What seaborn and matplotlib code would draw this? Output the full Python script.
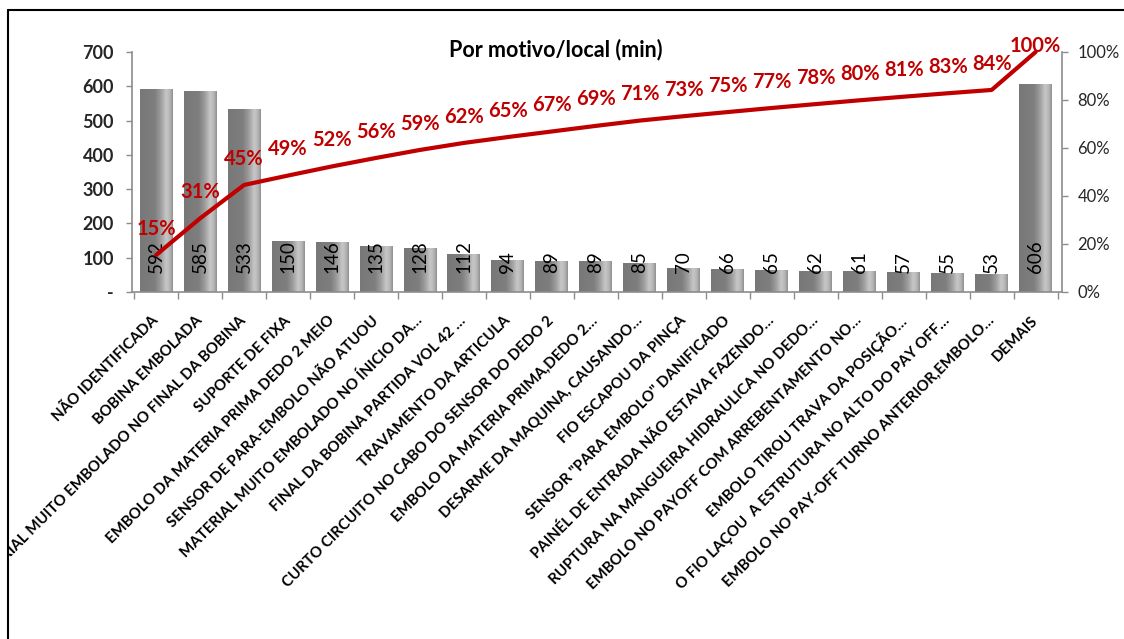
import numpy as np
import pandas as pd
import matplotlib
matplotlib.use("Agg")
import matplotlib.pyplot as plt
import seaborn as sns
from matplotlib.colors import LinearSegmentedColormap
from matplotlib.transforms import Bbox, TransformedBbox
from matplotlib.lines import Line2D

# Downtime per cause (minutes), already sorted for the Pareto view
motivos = [
    "NÃO IDENTIFICADA",
    "BOBINA EMBOLADA",
    "MATERIAL MUITO EMBOLADO NO FINAL DA BOBINA",
    "SUPORTE DE FIXA",
    "EMBOLO DA MATERIA PRIMA DEDO 2 MEIO",
    "SENSOR DE PARA-EMBOLO NÃO ATUOU",
    "MATERIAL MUITO EMBOLADO NO ÍNICIO DA…",
    "FINAL DA BOBINA PARTIDA VOL 42 …",
    "TRAVAMENTO DA ARTICULA",
    "CURTO CIRCUITO NO CABO DO SENSOR DO DEDO 2",
    "EMBOLO DA MATERIA PRIMA,DEDO 2…",
    "DESARME DA MAQUINA, CAUSANDO…",
    "FIO ESCAPOU DA PINÇA",
    "SENSOR \"PARA EMBOLO\" DANIFICADO",
    "PAINÉL DE ENTRADA NÃO ESTAVA FAZENDO…",
    "RUPTURA NA MANGUEIRA HIDRAULICA NO DEDO…",
    "EMBOLO NO PAYOFF COM ARREBENTAMENTO NO…",
    "EMBOLO TIROU TRAVA DA POSIÇÃO…",
    "O FIO LAÇOU  A ESTRUTURA NO ALTO DO PAY OFF…",
    "EMBOLO NO PAY-OFF TURNO ANTERIOR,EMBOLO…",
    "DEMAIS",
]
minutos = [592, 585, 533, 150, 146, 135, 128, 112, 94, 89, 89,
           85, 70, 66, 65, 62, 61, 57, 55, 53, 606]
y_ticks = [0, 100, 200, 300, 400, 500, 600, 700]
y_tick_labels = ["-", "100", "200", "300", "400", "500", "600", "700"]
pct_ticks = [0, 0.2, 0.4, 0.6, 0.8, 1.0]
pct_tick_labels = ["0%", "20%", "40%", "60%", "80%", "100%"]

df = pd.DataFrame({"motivo": motivos, "minutos": minutos})
df["acumulado"] = df["minutos"].cumsum() / df["minutos"].sum()
n = len(df)

sns.set_style("white")
plt.rcParams["font.family"] = ["Lato", "DejaVu Sans"]

W, H = 1124, 639
fig = plt.figure(figsize=(W / 100, H / 100), dpi=100)
ax = fig.add_axes([132 / W, 1 - 292 / H, 930 / W, 240 / H])

GRAY = "#8c8c8c"
RED = "#C00000"

sns.barplot(data=df, x="motivo", y="minutos", ax=ax, color="#8a8a8a",
            width=0.75, saturation=1, zorder=2)

# horizontal metallic shading on each bar
shade = LinearSegmentedColormap.from_list(
    "shade", [(0.0, "#787878"), (0.45, "#7e7e7e"), (0.62, "#9a9a9a"),
              (0.8, "#c8c8c8"), (0.92, "#b2b2b2"), (1.0, "#8e8e8e")])
grad = np.linspace(0, 1, 256).reshape(1, -1)
for p in list(ax.patches):
    x0, y0 = p.get_x(), p.get_y()
    w, h = p.get_width(), p.get_height()
    im = ax.imshow(grad, extent=[x0, x0 + w, y0, y0 + h], aspect="auto",
                   cmap=shade, interpolation="bicubic", zorder=2.5)
    im.set_clip_path(p)

ax.set_xlim(-0.55, n - 0.4)
ax.set_ylim(0, 700)
ax.set_xlabel("")
ax.set_ylabel("")

ax.set_yticks(y_ticks)
ax.set_yticklabels(y_tick_labels, fontsize=13, fontweight="bold", color="#262626")
ax.tick_params(axis="y", direction="out", length=4, width=1, color=GRAY, pad=9, left=True)

ax.set_xticks(np.arange(n))
ax.set_xticklabels(motivos, rotation=45, ha="right", va="center",
                   rotation_mode="anchor", fontsize=10.8, fontweight="bold", color="black")
ax.tick_params(axis="x", which="major", length=0, pad=19)
ax.set_xticks(np.arange(-0.5, n, 1), minor=True)
ax.tick_params(axis="x", which="minor", direction="out", length=5, width=1, color=GRAY, bottom=True)

for s in ["top", "right"]:
    ax.spines[s].set_visible(False)
for s in ["left", "bottom"]:
    ax.spines[s].set_color(GRAY)
    ax.spines[s].set_linewidth(1.2)

# bar values, inside the base
for i, v in enumerate(df["minutos"]):
    ax.annotate(f"{v}", xy=(i, 0), xytext=(0, 14), textcoords="offset points",
                rotation=90, ha="center", va="bottom", fontsize=13.5,
                color="black", zorder=5)

# cumulative share on the secondary axis
ax2 = ax.twinx()
sns.lineplot(x=np.arange(n), y=df["acumulado"].values, ax=ax2, color=RED,
             linewidth=3, clip_on=False, zorder=4)
ax2.set_ylim(0, 1)
ax2.set_xlim(ax.get_xlim())
ax2.set_yticks(pct_ticks)
ax2.set_yticklabels(pct_tick_labels, fontsize=12, color="#262626")
ax2.tick_params(axis="y", direction="out", length=4, width=1, color=GRAY, pad=7, right=True)
for s in ["top", "left", "bottom"]:
    ax2.spines[s].set_visible(False)
ax2.spines["right"].set_color(GRAY)
ax2.spines["right"].set_linewidth(1.2)

for i, c in enumerate(df["acumulado"]):
    off = 4 if i == n - 1 else 19
    ax2.annotate(f"{round(c * 100)}%", xy=(i, c), xytext=(0, off),
                 textcoords="offset points", ha="center", va="center",
                 fontsize=14.5, fontweight="bold", color=RED, annotation_clip=False)

fig.text(556 / W, 1 - 50 / H, "Por motivo/local (min)", ha="center", va="center",
         fontsize=15.5, fontweight="bold", color="black")

# outer frame (top and left edges)
fig.add_artist(Line2D([8 / W, 8 / W], [0, 1 - 10 / H], transform=fig.transFigure,
                      color="black", linewidth=1.5))
fig.add_artist(Line2D([8 / W, 1], [1 - 10 / H, 1 - 10 / H], transform=fig.transFigure,
                      color="black", linewidth=1.5))

fig.canvas.draw()
clip = TransformedBbox(Bbox([[9 / W, 0], [1, 1 - 11 / H]]), fig.transFigure)
for lbl in ax.get_xticklabels():
    lbl.set_clip_on(True)
    lbl.set_clip_box(clip)

fig.savefig("out.png", dpi=100, facecolor="white")
